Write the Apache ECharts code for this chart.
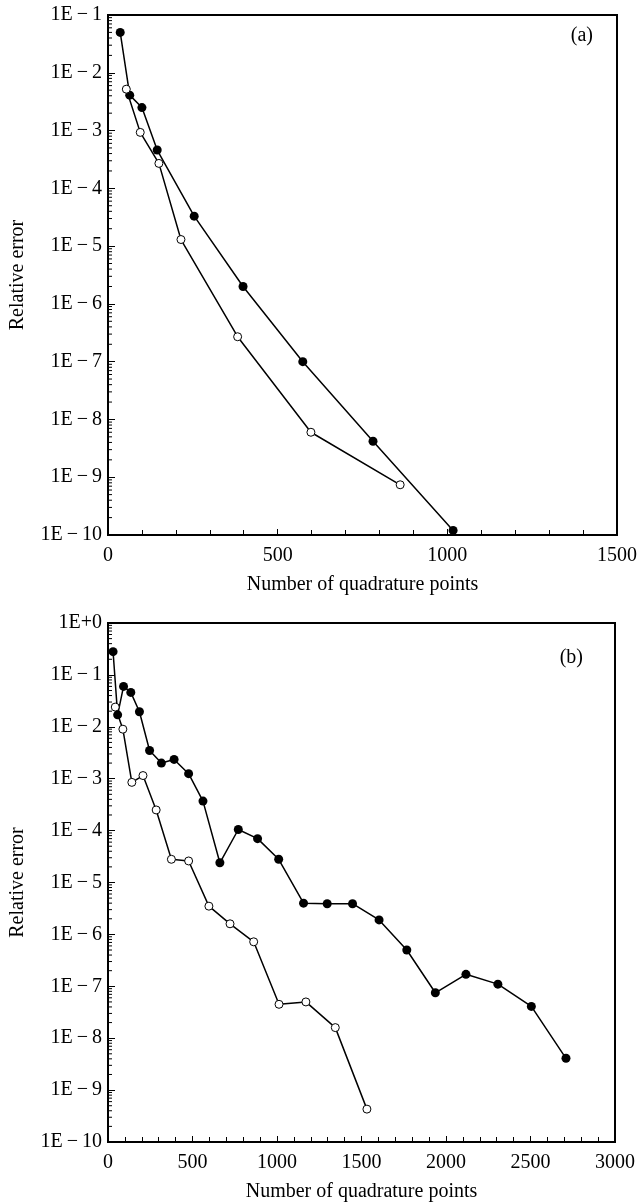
<!DOCTYPE html>
<html>
<head>
<meta charset="utf-8">
<script src="https://cdn.jsdelivr.net/npm/echarts@6/dist/echarts.min.js"></script>
<style>
  html, body { margin: 0; padding: 0; background: #fff; }
  #chart { width: 640px; height: 1203px; }
</style>
</head>
<body>
<div id="chart"></div>
<script>
// panel (a)
var aFilledX = [36, 64, 100, 145, 254, 398, 574, 781, 1017];
var aFilledY = [5.0e-2, 4.1e-3, 2.5e-3, 4.6e-4, 3.3e-5, 2.0e-6, 1.0e-7, 4.2e-9, 1.2e-10];
var aOpenX = [54, 95, 150, 215, 382, 598, 861];
var aOpenY = [5.2e-3, 9.3e-4, 2.7e-4, 1.3e-5, 2.7e-7, 6.0e-9, 7.4e-10];

// panel (b)
var bFilledX = [30, 57, 92, 135, 186, 246, 316, 391, 477, 562, 662, 771, 885, 1010,
  1157, 1297, 1447, 1604, 1768, 1937, 2118, 2307, 2505, 2710];
var bFilledY = [0.28, 0.017, 0.06, 0.046, 0.0195, 3.5e-3, 2.0e-3, 2.35e-3, 1.25e-3, 3.7e-4,
  2.4e-5, 1.05e-4, 7.0e-5, 2.8e-5, 4.0e-6, 3.9e-6, 3.9e-6, 1.9e-6, 5.0e-7, 7.5e-8,
  1.7e-7, 1.1e-7, 4.1e-8, 4.1e-9];
var bOpenX = [43, 88, 141, 207, 285, 375, 477, 597, 722, 862, 1012, 1171, 1345, 1532];
var bOpenY = [0.024, 0.009, 8.5e-4, 1.15e-3, 2.5e-4, 2.8e-5, 2.6e-5, 3.5e-6, 1.6e-6,
  7.2e-7, 4.5e-8, 5.0e-8, 1.6e-8, 4.3e-10];

var xTicksA = [0, 1500, 500];   // min, max, label step
var xTicksB = [0, 3000, 500];
var decadesA = [-10, -1];
var decadesB = [-10, 0];

var FONT = 'Liberation Serif';

function pairs(xs, ys) {
  return xs.map(function (x, i) { return [x, ys[i]]; });
}

function expLabel(v) {
  var e = Math.round(Math.log10(v));
  return e < 0 ? '1E\u2009\u2212\u2009' + (-e) : '1E+' + e;
}

// minor ticks at 2..9 x 10^n on the log axis, placed through the axis scale
function logTickValues(dec) {
  var out = [];
  for (var n = dec[0]; n < dec[1]; n++) {
    for (var m = 2; m <= 9; m++) out.push([m * Math.pow(10, n)]);
  }
  return out;
}

function tickSeries(idx, xmin, dec) {
  return {
    type: 'custom',
    xAxisIndex: idx, yAxisIndex: idx,
    silent: true,
    clip: false,
    data: logTickValues(dec),
    renderItem: function (params, api) {
      var p = api.coord([xmin, api.value(0)]);
      return {
        type: 'line',
        shape: { x1: p[0], y1: p[1], x2: p[0] + 4, y2: p[1] },
        style: { stroke: '#000', lineWidth: 1 }
      };
    }
  };
}

function xAxis(idx, t) {
  return {
    gridIndex: idx, type: 'value', min: t[0], max: t[1], interval: t[2],
    axisLine: { lineStyle: { color: '#000', width: 2 } },
    axisTick: { inside: true, length: 6, lineStyle: { color: '#000', width: 1 } },
    minorTick: { show: true, splitNumber: 5, length: 5, lineStyle: { color: '#000', width: 1 } },
    splitLine: { show: false },
    axisLabel: { color: '#000', fontFamily: FONT, fontSize: 20, margin: 11,
      formatter: function (v) { return String(v); } },
    name: 'Number of quadrature points', nameLocation: 'middle', nameGap: 40,
    nameTextStyle: { color: '#000', fontFamily: FONT, fontSize: 20 }
  };
}

function yAxis(idx, dec) {
  return {
    gridIndex: idx, type: 'log', logBase: 10,
    min: Math.pow(10, dec[0]), max: Math.pow(10, dec[1]), interval: 1,
    axisLine: { lineStyle: { color: '#000', width: 2 } },
    axisTick: { inside: true, length: 7, lineStyle: { color: '#000', width: 1 } },
    splitLine: { show: false },
    axisLabel: { color: '#000', fontFamily: FONT, fontSize: 20, margin: 6, formatter: expLabel },
    name: 'Relative error', nameLocation: 'middle', nameGap: 80, nameRotate: 90,
    nameTextStyle: { color: '#000', fontFamily: FONT, fontSize: 20 }
  };
}

function line(idx, data, filled) {
  return {
    type: 'line', xAxisIndex: idx, yAxisIndex: idx, data: data,
    symbol: 'circle', symbolSize: filled ? 9 : 8,
    lineStyle: { color: '#000', width: 1.5 },
    itemStyle: filled ? { color: '#000' } : { color: '#fff', borderColor: '#000', borderWidth: 1 },
    animation: false, z: filled ? 3 : 4
  };
}

var chart = echarts.init(document.getElementById('chart'));
chart.setOption({
  backgroundColor: '#fff',
  animation: false,
  title: [
    { text: '(a)', right: 42, top: 21, textStyle: { fontFamily: FONT, fontSize: 20, fontWeight: 'normal', color: '#000' } },
    { text: '(b)', right: 52, top: 643, textStyle: { fontFamily: FONT, fontSize: 20, fontWeight: 'normal', color: '#000' } }
  ],
  grid: [
    { left: 105, top: 15, width: 512, height: 520, show: true, borderColor: '#000', borderWidth: 2 },
    { left: 105, top: 623, width: 510, height: 520, show: true, borderColor: '#000', borderWidth: 2 }
  ],
  xAxis: [xAxis(0, xTicksA), xAxis(1, xTicksB)],
  yAxis: [yAxis(0, decadesA), yAxis(1, decadesB)],
  series: [
    line(0, pairs(aFilledX, aFilledY), true),
    line(0, pairs(aOpenX, aOpenY), false),
    line(1, pairs(bFilledX, bFilledY), true),
    line(1, pairs(bOpenX, bOpenY), false),
    tickSeries(0, xTicksA[0], decadesA),
    tickSeries(1, xTicksB[0], decadesB)
  ]
});
</script>
</body>
</html>
